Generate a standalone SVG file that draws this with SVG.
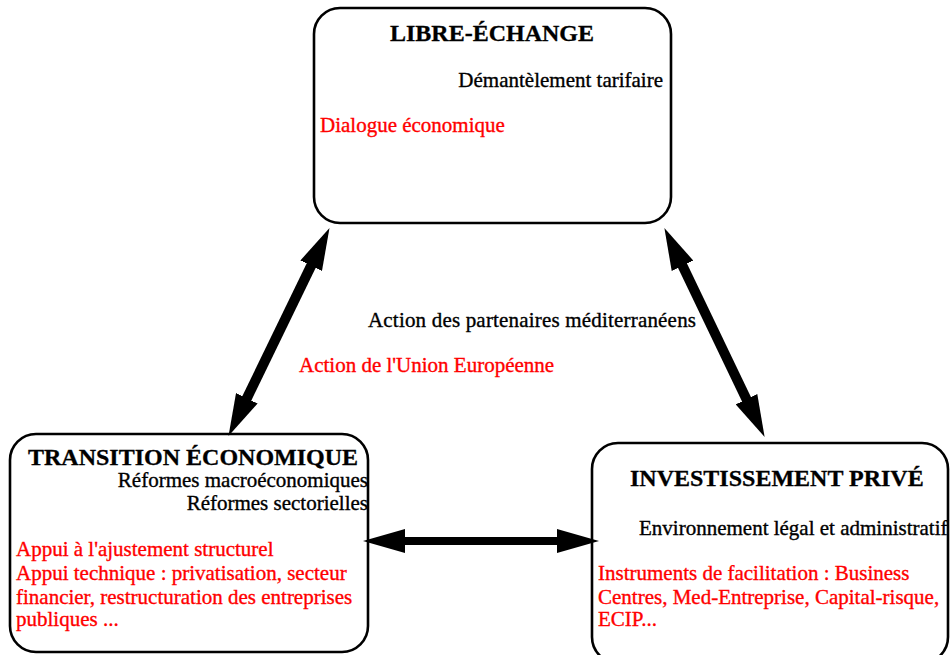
<svg xmlns="http://www.w3.org/2000/svg" width="951" height="655" viewBox="0 0 951 655">
  <style>
    .box { fill: #ffffff; stroke: #000000; stroke-width: 2.6; }
    .t { font-family: "Liberation Serif", "Times New Roman", serif; font-size: 21px; fill: #000000; stroke: #000000; stroke-width: 0.35; }
    .r { fill: #ff0000; stroke: #ff0000; }
    .h { font-family: "Liberation Serif", "Times New Roman", serif; font-size: 24px; font-weight: bold; fill: #000000; stroke: #000000; stroke-width: 0.3; }
    .shaft { stroke: #000000; fill: none; marker-start: url(#head); marker-end: url(#head); }
  </style>
  <defs>
    <marker id="head" viewBox="0 0 42 24" markerUnits="userSpaceOnUse" markerWidth="42" markerHeight="24" refX="1" refY="12" orient="auto-start-reverse">
      <path d="M0,0 L42,12 L0,24 Z" fill="#000000"/>
    </marker>
  </defs>
  <rect width="951" height="655" fill="#ffffff"/>

  <g id="libre-echange">
    <rect class="box" x="314" y="8" width="357" height="215" rx="26" ry="26"/>
    <text class="h" x="492" y="41" text-anchor="middle">LIBRE-ÉCHANGE</text>
    <text class="t" x="663" y="87" text-anchor="end">Démantèlement tarifaire</text>
    <text class="t r" x="320" y="132">Dialogue économique</text>
  </g>

  <g id="transition-economique">
    <rect class="box" x="10" y="434" width="358" height="218" rx="26" ry="26"/>
    <text class="h" x="28" y="465">TRANSITION ÉCONOMIQUE</text>
    <text class="t" x="368" y="487" text-anchor="end">Réformes macroéconomiques</text>
    <text class="t" x="368" y="510" text-anchor="end">Réformes sectorielles</text>
    <text class="t r" x="16" y="556">Appui à l'ajustement structurel</text>
    <text class="t r" x="16" y="580">Appui technique : privatisation, secteur</text>
    <text class="t r" x="16" y="604">financier, restructuration des entreprises</text>
    <text class="t r" x="16" y="626">publiques ...</text>
  </g>

  <g id="investissement-prive">
    <rect class="box" x="592" y="443" width="356" height="220" rx="26" ry="26"/>
    <text class="h" x="630" y="486">INVESTISSEMENT PRIVÉ</text>
    <text class="t" x="639" y="535">Environnement légal et administratif</text>
    <text class="t r" x="598" y="580">Instruments de facilitation : Business</text>
    <text class="t r" x="598" y="604">Centres, Med-Entreprise, Capital-risque,</text>
    <text class="t r" x="598" y="626">ECIP...</text>
  </g>

  <g id="labels">
    <text class="t" x="368" y="327" textLength="328">Action des partenaires méditerranéens</text>
    <text class="t r" x="299" y="372">Action de l'Union Européenne</text>
  </g>

  <g id="connectors">
    <path class="shaft" stroke-width="10" d="M246.4,399.2 L311.6,264.8"/>
    <path class="shaft" stroke-width="10" d="M682.1,264.9 L746.9,400.1"/>
    <path class="shaft" stroke-width="8" d="M404,541 L558,541"/>
  </g>
</svg>
